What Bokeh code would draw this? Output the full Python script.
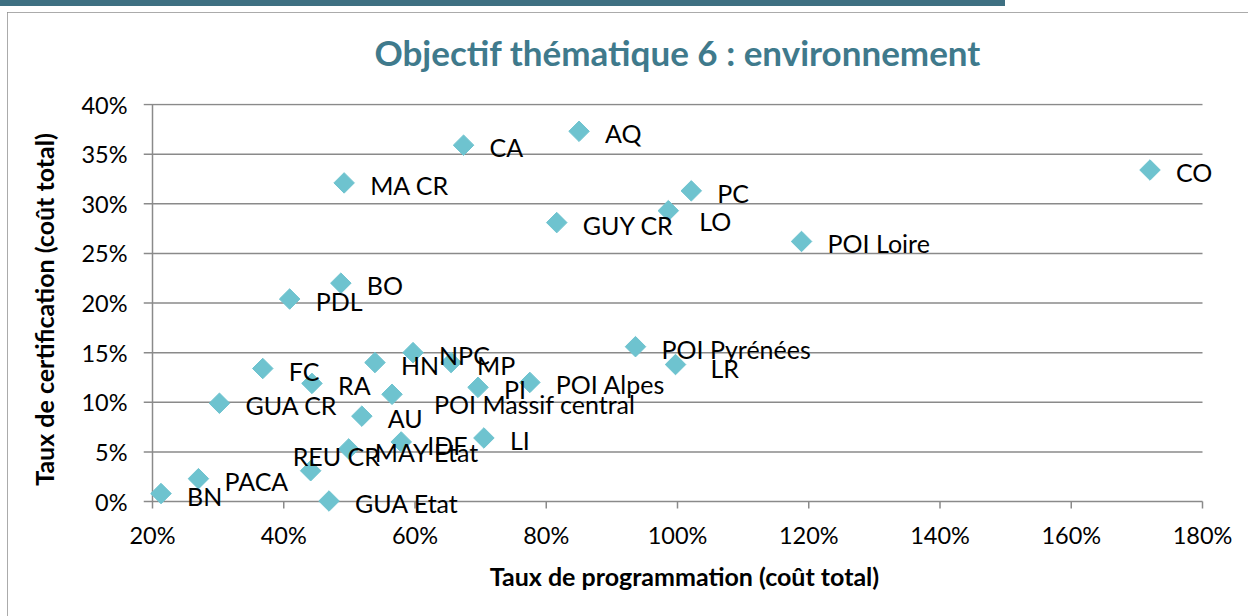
import numpy as np
from bokeh.plotting import figure
from bokeh.layouts import column
from bokeh.models import (ColumnDataSource, Range1d, FixedTicker, NumeralTickFormatter,
                          LabelSet, Div, Title)
from bokeh.core.properties import value
from bokeh.embed import file_html
from bokeh.resources import INLINE

# ---- data (percent values) ----
regions = ["BN", "PACA", "GUA CR", "FC", "PDL", "RA", "REU CR", "GUA Etat", "BO",
           "MA CR", "MAY Etat", "AU", "HN", "POI Massif central", "IDF", "NPC", "MP",
           "CA", "PI", "LI", "POI Alpes", "GUY CR", "AQ", "POI Pyrénées", "LO", "LR",
           "PC", "POI Loire", "CO"]
programmation_pct = [21.3, 27.0, 30.2, 36.8, 40.9, 44.3, 44.1, 46.9, 48.7,
                     49.2, 49.9, 51.9, 53.9, 56.5, 57.9, 59.7, 65.5,
                     67.4, 69.6, 70.5, 77.5, 81.6, 85.0, 93.6, 98.6, 99.7,
                     102.1, 118.9, 172.0]
certification_pct = [0.8, 2.3, 9.9, 13.4, 20.4, 11.9, 3.1, 0.05, 22.0,
                     32.1, 5.3, 8.6, 14.0, 10.8, 6.0, 15.0, 14.0,
                     35.9, 11.5, 6.4, 12.0, 28.1, 37.3, 15.6, 29.3, 13.8,
                     31.3, 26.2, 33.4]
x_ticks_pct = [20, 40, 60, 80, 100, 120, 140, 160, 180]
y_ticks_pct = [0, 5, 10, 15, 20, 25, 30, 35, 40]

title_text = "Objectif thématique 6 : environnement"
x_title = "Taux de programmation (coût total)"
y_title = "Taux de certification (coût total)"

# label placement nudges (screen px, +y = down) for labels Excel moved
DEFAULT_NUDGE = (26, 2)
LABEL_NUDGE = {"REU CR": (-18, -15), "POI Massif central": (42, 10),
               "LO": (31, 10), "LR": (35, 3), "MAY Etat": (26, 3), "IDF": (26, 3)}

FONT = "Lato"
GRID = "#8a8a8a"
MARK = "#6EC3CF"

# ---- geometry (pixels) ----
PX_X = 656.25   # px per unit (100%) on x
PX_Y = 992.5    # px per unit (100%) on y
PAD_L, PAD_R, PAD_T, PAD_B = 9, 23, 1, 14   # frame padding around the axes box
TICK = 7        # x tick length

xs = [v / 100 for v in programmation_pct]
ys = [v / 100 for v in certification_pct]
xo = [LABEL_NUDGE.get(r, DEFAULT_NUDGE)[0] for r in regions]
yo = [-LABEL_NUDGE.get(r, DEFAULT_NUDGE)[1] for r in regions]
src = ColumnDataSource(dict(x=xs, y=ys, name=regions, xo=xo, yo=yo))

xt = [v / 100 for v in x_ticks_pct]
yt = [v / 100 for v in y_ticks_pct]
x0, x1 = xt[0], xt[-1]
y0, y1 = yt[0], yt[-1]
xr = Range1d(x0 - PAD_L / PX_X, x1 + PAD_R / PX_X)
yr = Range1d(y0 - PAD_B / PX_Y, y1 + PAD_T / PX_Y)

p = figure(width=1241, height=606, output_backend="svg", toolbar_location=None,
           x_range=xr, y_range=yr,
           min_border_left=136, min_border_right=23, min_border_top=91, min_border_bottom=103)
p.margin = (6, 0, 0, 7)
p.styles = {"outline": "1.5px solid #8f8f8f", "outline-offset": "-1.5px"}
p.outline_line_color = None
p.background_fill_color = "white"
p.border_fill_color = "white"

# empty spacer panel between the frame and the title
p.add_layout(Title(text=" ", text_font_size="20px", standoff=7), "above")
p.title.text = title_text
p.title.align = "left"
p.title.offset = 231
p.title.text_font = FONT
p.title.text_font_style = "bold"
p.title.text_font_size = "35px"
p.title.text_color = "#3F7A8C"
p.title.standoff = 0

p.grid.visible = False

for ax, ticks, lbl in ((p.xaxis[0], xt, x_title), (p.yaxis[0], yt, y_title)):
    ax.ticker = FixedTicker(ticks=ticks)
    ax.formatter = NumeralTickFormatter(format="0%")
    ax.axis_line_color = None
    ax.major_tick_line_color = None
    ax.major_tick_in = 0
    ax.major_tick_out = 0
    ax.minor_tick_line_color = None
    ax.major_label_text_font = FONT
    ax.major_label_text_font_size = "23.5px"
    ax.major_label_text_color = "black"
    ax.axis_label = lbl
    ax.axis_label_text_font = FONT
    ax.axis_label_text_font_style = "bold"
    ax.axis_label_text_font_size = "25px"
    ax.axis_label_text_color = "black"

p.xaxis.major_label_standoff = 5
p.xaxis.axis_label_standoff = 9
p.yaxis.major_label_standoff = 16
p.yaxis.axis_label_standoff = 19

# horizontal gridlines (extending left of the value axis as tick marks)
p.segment(x0=[xr.start] * len(yt), y0=yt, x1=[x1] * len(yt), y1=yt,
          line_color=GRID, line_width=1.5)
# value axis line
p.segment(x0=[x0], y0=[y0], x1=[x0], y1=[y1], line_color=GRID, line_width=1.5)
# x tick marks below the category axis
p.segment(x0=xt, y0=[y0] * len(xt), x1=xt, y1=[y0 - TICK / PX_Y] * len(xt),
          line_color=GRID, line_width=1.5)

p.scatter("x", "y", source=src, marker="square", size=14.5, angle=np.pi / 4,
          fill_color=MARK, line_color=MARK)
labels = LabelSet(x="x", y="y", text="name", source=src, x_offset="xo", y_offset="yo",
                  text_font=value(FONT), text_font_size=value("25px"), text_color="black",
                  text_align="left", text_baseline="middle")
p.add_layout(labels)

bar = Div(width=1005, height=6, margin=0, styles={"background-color": "#3E7082"})
layout = column(bar, p, spacing=0)

open("out.html", "w").write(file_html(layout, INLINE))
